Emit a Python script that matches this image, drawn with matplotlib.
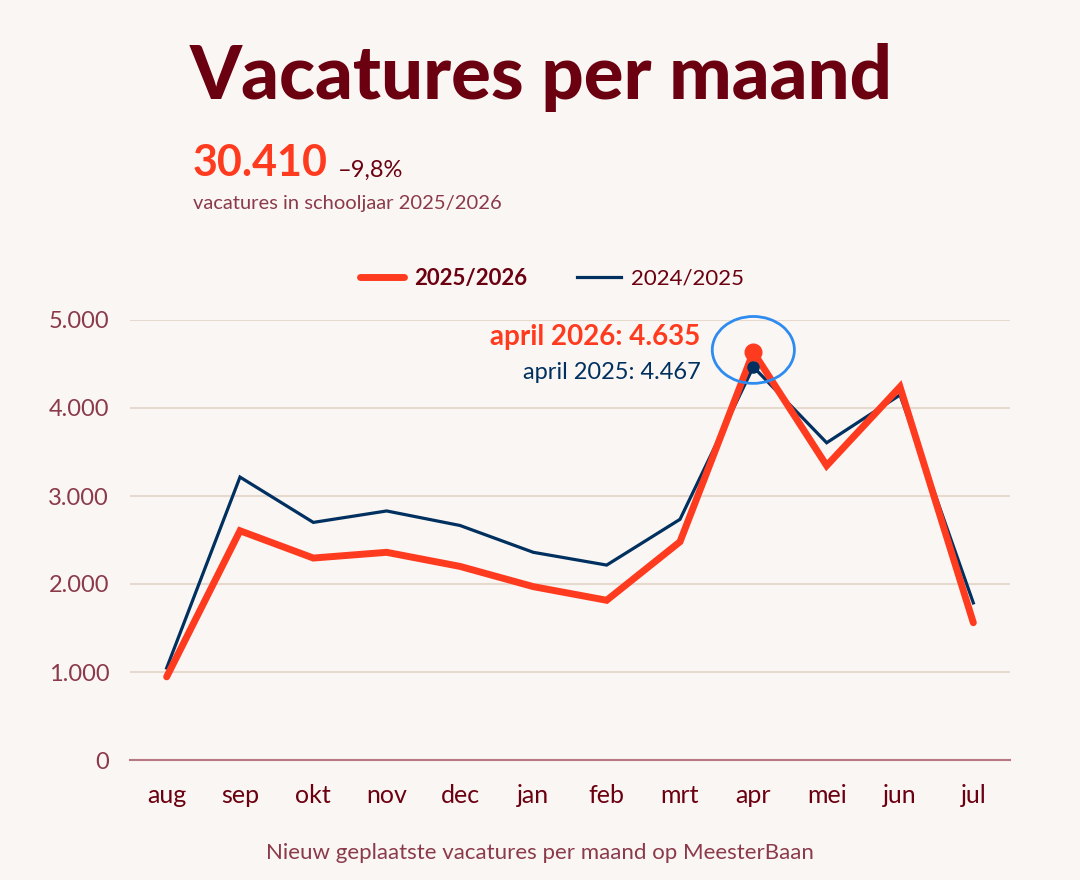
import matplotlib
matplotlib.use("Agg")
import matplotlib.pyplot as plt
from matplotlib.patches import Arc

# data
months = ["aug", "sep", "okt", "nov", "dec", "jan", "feb", "mrt", "apr", "mei", "jun", "jul"]
vac_2025_2026 = [945, 2605, 2295, 2360, 2200, 1970, 1815, 2480, 4635, 3345, 4240, 1560]
vac_2024_2025 = [1045, 3215, 2700, 2830, 2665, 2360, 2215, 2735, 4467, 3605, 4148, 1785]
yticks = [0, 1000, 2000, 3000, 4000, 5000]
ytick_labels = ["0", "1.000", "2.000", "3.000", "4.000", "5.000"]

BG = "#faf6f3"
RED = "#ff3b1f"
NAVY = "#00305f"
MAROON = "#6b0010"
MUTED = "#8b3a4a"
GRID = "#e6d9cd"
CIRCLE = "#2e8cf0"

plt.rcParams['font.family'] = ['Lato', 'DejaVu Sans']

fig = plt.figure(figsize=(10.8, 8.8), dpi=100, facecolor=BG)
ax = fig.add_axes([130 / 1080, 1 - 760 / 880, 880 / 1080, 440 / 880])
ax.set_facecolor(BG)

x = list(range(len(months)))
ax.plot(x, vac_2024_2025, color=NAVY, lw=2.3, solid_joinstyle="miter", clip_on=False, zorder=3, label="2024/2025")
ax.plot(x, vac_2025_2026, color=RED, lw=5, solid_capstyle="round", solid_joinstyle="miter", clip_on=False, zorder=4,
        label="2025/2026")

apr = months.index("apr")
ax.plot(apr, vac_2025_2026[apr], "o", color=RED, ms=12, zorder=5, clip_on=False)
ax.plot(apr, vac_2024_2025[apr], "o", color=NAVY, ms=8, zorder=6, clip_on=False)

# hand drawn circle around the april peak
ax.add_patch(Arc((apr, 4660), 1.12, 760, theta1=178, theta2=520, color=CIRCLE, lw=2, clip_on=False, zorder=7))

ax.text(apr - 0.72, 4805, "april 2026: 4.635", color=RED, fontsize=20, fontweight="bold", ha="right", va="center")
ax.text(apr - 0.72, 4400, "april 2025: 4.467", color=NAVY, fontsize=17, ha="right", va="center")

ax.set_xlim(-0.5, 11.5)
ax.set_ylim(0, 5000)
ax.set_yticks(yticks)
ax.set_yticklabels(ytick_labels)
ax.set_xticks(x)
ax.set_xticklabels(months)
ax.grid(axis="y", color=GRID, lw=1.5)
ax.set_axisbelow(True)
for s in ["top", "right", "left"]:
    ax.spines[s].set_visible(False)
ax.spines["bottom"].set_color("#b87880")
ax.spines["bottom"].set_linewidth(1.5)
ax.tick_params(axis="y", length=0, pad=15, labelsize=17, labelcolor=MUTED)
ax.tick_params(axis="x", length=0, pad=17, labelsize=18, labelcolor=MAROON)

handles, labels = ax.get_legend_handles_labels()
leg = fig.legend(handles[::-1], labels[::-1], loc="center", bbox_to_anchor=(552 / 1080, 1 - 278 / 880), ncol=2,
                 frameon=False, fontsize=16, handlelength=2.0, columnspacing=2.2, handletextpad=0.45)
for t in leg.get_texts():
    t.set_color(MAROON)
leg.get_texts()[0].set_fontweight("bold")

fig.text(190 / 1080, 1 - 78 / 880, "Vacatures per maand", color=MAROON, fontsize=53.5, fontweight="black",
         va="center", ha="left")
fig.text(193 / 1080, 1 - 163 / 880, "30.410", color=RED, fontsize=31, fontweight="bold", va="center")
fig.text(338 / 1080, 1 - 170 / 880, "\u20139,8%", color=MAROON, fontsize=17, va="center")
fig.text(193 / 1080, 1 - 204 / 880, "vacatures in schooljaar 2025/2026", color=MUTED, fontsize=14.5, va="center")
fig.text(540 / 1080, 1 - 853 / 880, "Nieuw geplaatste vacatures per maand op MeesterBaan", color=MUTED,
         fontsize=16, ha="center", va="center")

fig.savefig("out.png", dpi=100, facecolor=BG)
